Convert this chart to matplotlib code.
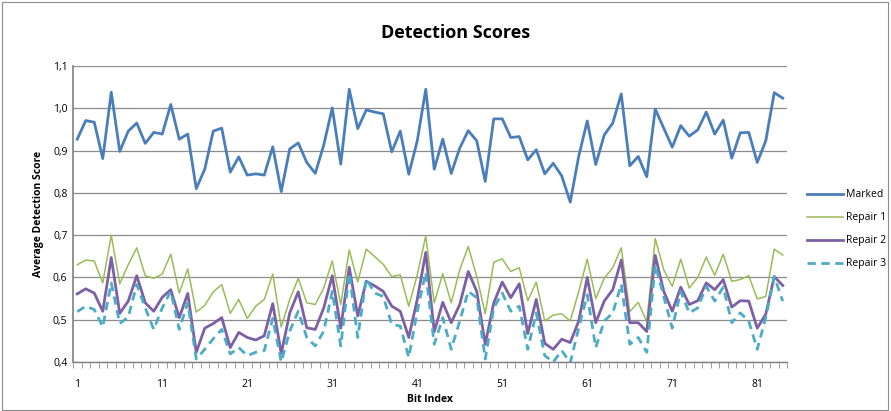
import numpy as np
import matplotlib
matplotlib.use('Agg')
from matplotlib import pyplot as plt
from matplotlib.patches import Rectangle

plt.rcParams['font.family'] = ['Open Sans', 'DejaVu Sans']

bit_index = list(range(1, 85))

marked = [0.927, 0.971, 0.967, 0.881, 1.038, 0.898, 0.946, 0.965, 0.917, 0.943,
          0.939, 1.009, 0.927, 0.939, 0.810, 0.856, 0.946, 0.953, 0.849, 0.885,
          0.842, 0.845, 0.842, 0.909, 0.803, 0.904, 0.918, 0.872, 0.846, 0.913,
          1.001, 0.868, 1.045, 0.952, 0.996, 0.991, 0.987, 0.897, 0.946, 0.844,
          0.923, 1.045, 0.856, 0.927, 0.846, 0.906, 0.947, 0.923, 0.827, 0.975,
          0.975, 0.931, 0.933, 0.878, 0.902, 0.845, 0.870, 0.840, 0.778, 0.887,
          0.970, 0.867, 0.937, 0.965, 1.034, 0.864, 0.886, 0.838, 0.998, 0.953,
          0.908, 0.959, 0.934, 0.949, 0.991, 0.939, 0.972, 0.882, 0.942, 0.943,
          0.872, 0.923, 1.037, 1.024]

repair1 = [0.630, 0.641, 0.639, 0.587, 0.700, 0.585, 0.630, 0.670, 0.604, 0.598,
           0.608, 0.655, 0.563, 0.620, 0.518, 0.534, 0.566, 0.583, 0.515, 0.548,
           0.503, 0.532, 0.548, 0.608, 0.483, 0.548, 0.598, 0.540, 0.536, 0.575,
           0.639, 0.536, 0.665, 0.589, 0.667, 0.649, 0.631, 0.602, 0.606, 0.532,
           0.606, 0.698, 0.540, 0.609, 0.540, 0.618, 0.673, 0.602, 0.514, 0.636,
           0.644, 0.614, 0.623, 0.545, 0.589, 0.497, 0.511, 0.514, 0.497, 0.567,
           0.643, 0.550, 0.598, 0.623, 0.670, 0.519, 0.541, 0.495, 0.692, 0.618,
           0.579, 0.643, 0.575, 0.600, 0.648, 0.605, 0.655, 0.591, 0.595, 0.604,
           0.549, 0.555, 0.667, 0.653]

repair2 = [0.561, 0.573, 0.563, 0.520, 0.647, 0.515, 0.544, 0.604, 0.540, 0.520,
           0.553, 0.571, 0.505, 0.562, 0.423, 0.480, 0.491, 0.505, 0.434, 0.470,
           0.458, 0.452, 0.462, 0.538, 0.420, 0.516, 0.566, 0.481, 0.477, 0.528,
           0.604, 0.480, 0.624, 0.509, 0.591, 0.580, 0.567, 0.532, 0.520, 0.458,
           0.548, 0.659, 0.472, 0.541, 0.493, 0.536, 0.614, 0.567, 0.442, 0.540,
           0.589, 0.552, 0.585, 0.467, 0.548, 0.444, 0.430, 0.454, 0.446, 0.497,
           0.600, 0.493, 0.544, 0.571, 0.641, 0.493, 0.493, 0.472, 0.652, 0.567,
           0.520, 0.577, 0.536, 0.545, 0.587, 0.571, 0.595, 0.530, 0.545, 0.544,
           0.480, 0.513, 0.602, 0.581]

repair3 = [0.519, 0.532, 0.524, 0.483, 0.587, 0.491, 0.506, 0.583, 0.528, 0.477,
           0.528, 0.567, 0.477, 0.540, 0.407, 0.430, 0.455, 0.477, 0.419, 0.434,
           0.415, 0.423, 0.427, 0.503, 0.400, 0.473, 0.520, 0.458, 0.438, 0.473,
           0.567, 0.438, 0.610, 0.458, 0.597, 0.563, 0.555, 0.489, 0.485, 0.411,
           0.520, 0.612, 0.442, 0.505, 0.430, 0.497, 0.567, 0.552, 0.407, 0.528,
           0.563, 0.520, 0.532, 0.430, 0.516, 0.415, 0.400, 0.427, 0.398, 0.481,
           0.559, 0.434, 0.497, 0.516, 0.584, 0.442, 0.458, 0.423, 0.630, 0.555,
           0.480, 0.567, 0.516, 0.528, 0.579, 0.544, 0.577, 0.493, 0.516, 0.497,
           0.430, 0.505, 0.602, 0.544]

x_labels = [1, 11, 21, 31, 41, 51, 61, 71, 81]
y_ticks = [0.4, 0.5, 0.6, 0.7, 0.8, 0.9, 1.0, 1.1]

fig = plt.figure(figsize=(8.91, 4.11), dpi=100)
fig.patches.append(Rectangle((0.002, 0.003), 0.995, 0.993, transform=fig.transFigure,
                             fill=False, edgecolor='#8c8c8c', linewidth=0.8))
ax = fig.add_axes([73 / 891, 49 / 411, 714 / 891, 296 / 411])

ax.plot(bit_index, marked, color='#4a7ebb', linewidth=2.0, label='Marked')
ax.plot(bit_index, repair1, color='#9bbb59', linewidth=1.1, label='Repair 1')
ax.plot(bit_index, repair2, color='#7d5fa5', linewidth=2.0, label='Repair 2')
ax.plot(bit_index, repair3, color='#4bacc6', linewidth=2.0, linestyle=(0, (3, 2)),
        label='Repair 3')

ax.set_xlim(0.5, 84.5)
ax.set_ylim(0.4, 1.1)
ax.set_yticks(y_ticks)
ax.set_yticklabels([('%.1f' % v).replace('.', ',') for v in y_ticks], fontsize=7.5)
ax.set_xticks(x_labels)
ax.set_xticklabels([str(v) for v in x_labels], fontsize=7.5)
ax.set_xticks(np.arange(0.5, 85, 1), minor=True)
ax.tick_params(axis='x', which='major', length=0, pad=12)
ax.tick_params(axis='x', which='minor', length=4, color='#8c8c8c', direction='out')
ax.tick_params(axis='y', length=0, pad=4)

ax.grid(axis='y', color='#8c8c8c', linewidth=0.9)
ax.set_axisbelow(True)
for s in ['top', 'right']:
    ax.spines[s].set_visible(False)
ax.spines['left'].set_color('#7f7f7f')
ax.spines['left'].set_linewidth(1.2)
ax.spines['bottom'].set_color('#7f7f7f')
ax.spines['bottom'].set_linewidth(1.0)

ax.set_xlabel('Bit Index', fontsize=7.5, fontweight='bold', labelpad=3)
ax.set_ylabel('Average Detection Score', fontsize=7.5, fontweight='bold', labelpad=6)
fig.text(0.511, 0.92, 'Detection Scores', fontsize=13, fontweight='bold',
         ha='center', va='center')

fig.legend(loc='center left', bbox_to_anchor=(0.895, 0.442), frameon=False,
           fontsize=7.5, handlelength=3.5, labelspacing=1.15, handletextpad=0.3)

plt.savefig('out.png', dpi=100)
